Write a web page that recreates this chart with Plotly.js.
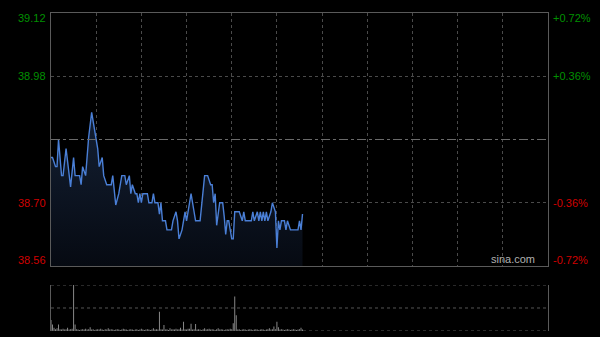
<!DOCTYPE html>
<html><head><meta charset="utf-8">
<script src="https://cdn.plot.ly/plotly-3.0.1.min.js"></script>
<style>html,body{margin:0;padding:0;background:#000;}#c{width:600px;height:337px;}</style>
</head><body><div id="c"></div>
<script>
// price line vertices: minute index (0..330, HK session) and price
const minutes = [0,1,3,4,5,7,8,10,13,15,16,19,20,21,23,25,27,29,31,32,34,35,37,40,41,43,45,47,49,50,52,53,54,56,57,58,59,60,61,64,65,67,68,69,71,72,73,74,76,77,80,81,83,84,85,87,88,89,90,92,93,94,96,99,100,102,104,106,107,108,109,110,112,114,115,116,117,118,120,121,122,125,127,128,129,133,134,135,137,138,139,140,141,142,143,144,146,147,149,150,151,152,153,155,156,157,159,164,165,166,167];
const prices = [38.80,38.80,38.78,38.78,38.84,38.76,38.76,38.82,38.735,38.80,38.76,38.76,38.74,38.78,38.76,38.845,38.90,38.86,38.82,38.78,38.80,38.76,38.74,38.74,38.76,38.695,38.72,38.76,38.76,38.74,38.76,38.72,38.74,38.72,38.72,38.70,38.72,38.70,38.72,38.72,38.70,38.70,38.72,38.70,38.70,38.675,38.70,38.66,38.66,38.64,38.64,38.66,38.68,38.66,38.62,38.64,38.66,38.68,38.66,38.70,38.72,38.70,38.66,38.66,38.70,38.76,38.76,38.74,38.74,38.70,38.72,38.65,38.70,38.70,38.67,38.63,38.66,38.66,38.62,38.62,38.68,38.68,38.66,38.68,38.66,38.66,38.68,38.66,38.68,38.66,38.68,38.66,38.68,38.66,38.68,38.66,38.68,38.70,38.68,38.60,38.66,38.64,38.66,38.66,38.64,38.66,38.64,38.64,38.66,38.64,38.675];
// per-minute volume (relative units)
const volumes = [24,14,7,4,6,14,4,3,5,3,
 4,7,3,4,5,100,14,4,3,2,
 3,4,3,5,3,4,8,3,4,2,
 3,4,3,5,3,2,4,3,6,3,
 4,3,2,3,4,3,2,3,5,4,
 3,2,3,4,3,2,3,4,2,3,
 5,3,2,3,4,3,2,3,6,3,
 4,3,42,4,3,13,3,4,2,6,
 3,4,3,5,3,4,7,3,20,4,
 3,5,5,16,3,4,15,3,4,3,
 2,4,6,3,4,5,3,4,3,2,
 4,6,3,4,3,2,3,4,3,5,
 4,17,75,34,3,4,2,3,4,3,
 2,3,4,3,2,3,4,3,2,3,
 4,3,2,3,4,6,3,4,10,4,
 20,8,3,4,3,2,3,4,3,2,
 3,4,3,2,3,4,7,3];
const volMinutes = volumes.map((v,i)=>i);
const prevClose = 38.84;
const priceTicks = [39.12, 38.98, 38.70, 38.56];
const priceTickText = ['39.12','38.98','38.70','38.56'];
const pctTickText = ['+0.72%','+0.36%','-0.36%','-0.72%'];
const tickColors = ['#009000','#009000','#d00000','#d00000'];

const green='#009000', red='#d00000';
const font = 'Liberation Sans, Arial, sans-serif';

const traces = [
 {x: minutes, y: prices, type:'scatter', mode:'lines', xaxis:'x', yaxis:'y',
  line:{color:'#4a7fd6', width:1.4},
  fill:'tozeroy',
  fillgradient:{type:'vertical', start:38.56, stop:38.90,
    colorscale:[[0,'rgba(6,10,18,1)'],[1,'rgba(20,32,52,1)']]},
  hoverinfo:'skip'},
 {x: volMinutes, y: volumes, type:'bar', xaxis:'x2', yaxis:'y2',
  marker:{color:'#8a8a8a', line:{width:0}}, hoverinfo:'skip'}
];

const annotations = [];
priceTicks.forEach((v,i)=>{
  const ys = i===0 ? -5 : (i===3 ? 6 : 0);
  annotations.push({xref:'paper', yref:'y', x:0, y:v, xanchor:'right', yanchor:'middle',
    xshift:-3, yshift:ys, text:priceTickText[i], showarrow:false,
    font:{family:font, size:11, color:tickColors[i]}});
  annotations.push({xref:'paper', yref:'y', x:1, y:v, xanchor:'left', yanchor:'middle',
    xshift:3, yshift:ys, text:pctTickText[i], showarrow:false,
    font:{family:font, size:11, color:tickColors[i]}});
});
annotations.push({xref:'paper', yref:'y', x:0.978, y:38.56, xanchor:'right', yanchor:'bottom',
  yshift:-1, text:'sina.com', showarrow:false, font:{family:font, size:11, color:'#b0b0b0'}});

const shapes = [
 {type:'line', xref:'paper', yref:'y', x0:0, x1:1, y0:prevClose, y1:prevClose,
  line:{color:'#6a6a6a', width:1, dash:'dashdot'}},
 {type:'line', xref:'paper', yref:'y2', x0:0, x1:1, y0:100, y1:100, line:{color:'#555', width:1, dash:'dot'}},
 {type:'line', xref:'paper', yref:'y2', x0:0, x1:1, y0:50, y1:50, line:{color:'#555', width:1, dash:'dot'}},
 {type:'line', xref:'paper', yref:'y2', x0:0, x1:1, y0:0, y1:0, line:{color:'#555', width:1, dash:'dot'}}
];

const layout = {
  width:600, height:337,
  margin:{l:51, r:52, t:13, b:6, pad:0},
  paper_bgcolor:'#000', plot_bgcolor:'#000',
  showlegend:false, bargap:0.35,
  xaxis:{range:[0,330], domain:[0,1], anchor:'y', dtick:30, tick0:0, showticklabels:false, ticks:'',
    showgrid:true, gridcolor:'#4a4a4a', griddash:'dot', gridwidth:1,
    showline:true, mirror:true, linecolor:'#5a5a5a', linewidth:1, zeroline:false, fixedrange:true},
  yaxis:{range:[38.56,39.12], domain:[0.2044,1], anchor:'x', tickvals:[38.98,38.70], showticklabels:false, ticks:'',
    showgrid:true, gridcolor:'#4a4a4a', griddash:'dot', gridwidth:1,
    showline:true, mirror:true, linecolor:'#5a5a5a', linewidth:1, zeroline:false},
  xaxis2:{range:[0,330], domain:[0,1], anchor:'y2', showticklabels:false, ticks:'', showgrid:false,
    showline:false, zeroline:false},
  yaxis2:{range:[0,100], domain:[0,0.1447], anchor:'x2', showticklabels:false, ticks:'', showgrid:false,
    showline:true, mirror:true, linecolor:'#5a5a5a', linewidth:1, zeroline:false},
  annotations, shapes
};
Plotly.newPlot('c', traces, layout, {displayModeBar:false, staticPlot:true});
</script></body></html>
